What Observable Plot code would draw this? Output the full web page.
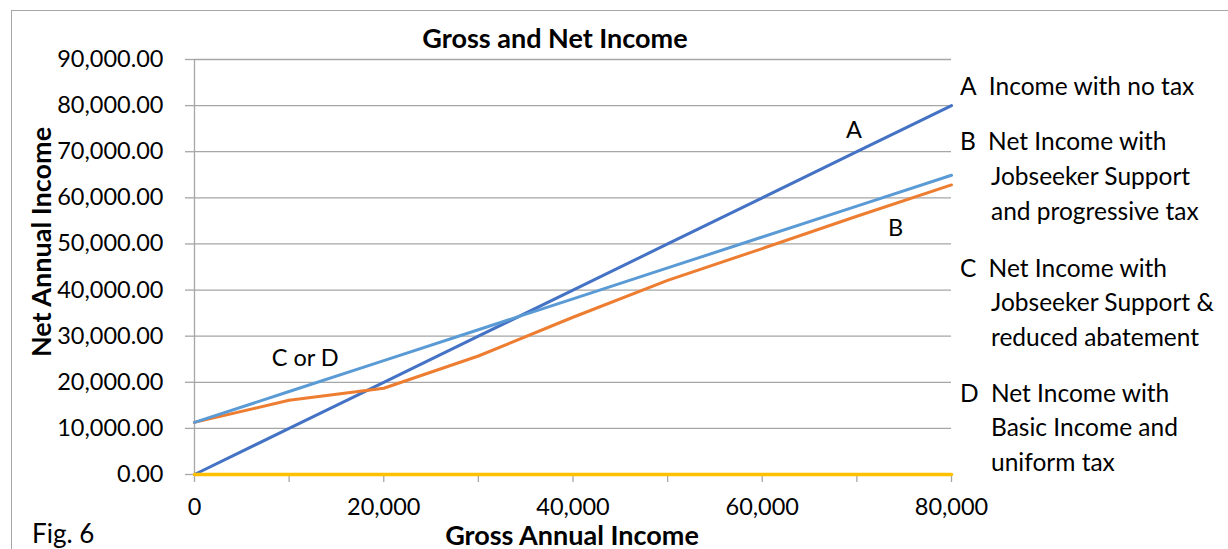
<!DOCTYPE html>
<html><head><meta charset="utf-8">
<script src="https://cdn.jsdelivr.net/npm/d3@7"></script>
<script src="https://cdn.jsdelivr.net/npm/@observablehq/plot@0.6"></script>
<style>
html,body{margin:0;padding:0;background:#fff;}
#wrap{position:relative;width:1228px;height:549px;overflow:hidden;font-family:Lato,sans-serif;color:#000;background:#fff;}
#frame{position:absolute;left:11px;top:10px;width:1300px;height:600px;border-left:1.5px solid #a6a6a6;border-top:1.5px solid #a6a6a6;}
.t{position:absolute;white-space:nowrap;line-height:1;}
</style></head><body>
<div id="wrap"><div id="frame"></div></div>
<script>
// ---- data ----
const gross = [0, 10000, 20000, 30000, 40000, 50000, 60000, 70000, 80000];
const incomeNoTax = [0, 10000, 20000, 30000, 40000, 50000, 60000, 70000, 80000];           // A
const netJobseekerProgressive = [11300, 16100, 18700, 25700, 34100, 42100, 49000, 56000, 62800]; // B
const netSeriesZero = [0, 0, 0, 0, 0, 0, 0, 0, 0];                                           // yellow
const netCorD = [11300, 18000, 24700, 31400, 38100, 44800, 51500, 58200, 64900];            // C or D
const yTicks = [0, 10000, 20000, 30000, 40000, 50000, 60000, 70000, 80000, 90000];
const xTicks = [0, 10000, 20000, 30000, 40000, 50000, 60000, 70000, 80000];
const xLabelTicks = [0, 20000, 40000, 60000, 80000];
const annotLabels = ["A", "B", "C or D"];
const annotX = [69700, 74100, 11700];
const annotY = [74600, 53400, 25200];
const chartTitle = "Gross and Net Income";
const xTitle = "Gross Annual Income";
const yTitle = "Net Annual Income";
const figLabel = "Fig. 6";
const legendLines = [
  "A\u2002Income with no tax",
  "B\u2002Net Income with", "Jobseeker Support", "and progressive tax",
  "C\u2002Net Income with", "Jobseeker Support &", "reduced abatement",
  "D\u2002Net Income with", "Basic Income and", "uniform tax"
];
const legendIndent = [0,0,1,1,0,1,1,0,1,1];
const legendTop = [86,141,176,211,268,302,337,393,427,462];

const colA = "#4472C4", colB = "#ED7D31", colZero = "#FFC000", colCD = "#5B9BD5";
const grid = "#a6a6a6";

const annots = annotLabels.map((l,i)=>({label:l, x:annotX[i], y:annotY[i]}));

const plot = Plot.plot({
  width: 1228, height: 549,
  marginLeft: 194, marginRight: 277, marginTop: 59, marginBottom: 75,
  style: {fontFamily: "Lato, sans-serif", fontSize: "23.5px", color: "#000", background: "transparent", overflow: "visible"},
  x: {domain: [0, 80000]},
  y: {domain: [0, 90000]},
  marks: [
    Plot.gridY(yTicks, {stroke: grid, strokeOpacity: 1, strokeWidth: 1.3}),
    Plot.axisY(yTicks, {tickSize: 9, tickPadding: 22, tickFormat: d3.format(",.2f"), stroke: grid, strokeWidth: 1.3, label: null, fontSize: 23.5}),
    Plot.axisX(xTicks, {tickSize: 8, tickPadding: 16, tickFormat: d => xLabelTicks.includes(d) ? d3.format(",")(d) : "", stroke: grid, strokeWidth: 1.3, label: null, fontSize: 23.5}),
    Plot.ruleX([0], {stroke: grid, strokeWidth: 1.3}),
    Plot.line(gross, {x: gross, y: incomeNoTax, stroke: colA, strokeWidth: 3, strokeLinecap: "round", strokeLinejoin: "round"}),
    Plot.line(gross, {x: gross, y: netJobseekerProgressive, stroke: colB, strokeWidth: 3, strokeLinecap: "round", strokeLinejoin: "round"}),
    Plot.line(gross, {x: gross, y: netSeriesZero, stroke: colZero, strokeWidth: 3.5, strokeLinecap: "round"}),
    Plot.line(gross, {x: gross, y: netCorD, stroke: colCD, strokeWidth: 3, strokeLinecap: "round", strokeLinejoin: "round"}),
    Plot.text(annots, {x: "x", y: "y", text: "label", fontSize: 23.5, fill: "#000"})
  ]
});
plot.style.position = "absolute";
plot.style.left = "0px";
plot.style.top = "0px";
const wrap = document.getElementById("wrap");
wrap.appendChild(plot);

function addText(txt, left, top, css, transform) {
  const d = document.createElement("div");
  d.className = "t";
  d.textContent = txt;
  d.style.left = left + "px";
  d.style.top = top + "px";
  Object.assign(d.style, css);
  d.style.transform = transform;
  wrap.appendChild(d);
  return d;
}
addText(chartTitle, 555, 37, {fontWeight: "bold", fontSize: "27px"}, "translate(-50%,-50%)");
addText(xTitle, 572, 534, {fontWeight: "bold", fontSize: "27px"}, "translate(-50%,-50%)");
addText(yTitle, 40, 242, {fontWeight: "bold", fontSize: "27px"}, "translate(-50%,-50%) rotate(-90deg)");
addText(figLabel, 32, 533, {fontSize: "26px"}, "translateY(-50%)");
legendLines.forEach((l,i) => {
  addText(l, legendIndent[i] ? 991 : 960, legendTop[i], {fontSize: "24.5px"}, "translateY(-50%)");
});
</script>
</body></html>
